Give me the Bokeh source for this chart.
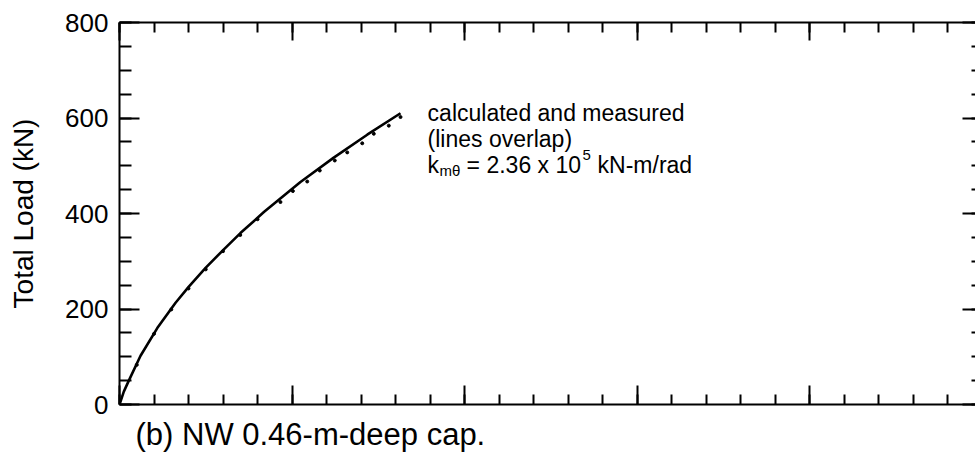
from bokeh.plotting import figure
from bokeh.models import Range1d, LinearAxis, FixedTicker, Label, Title, CustomJSTickFormatter
from bokeh.embed import file_html
from bokeh.resources import INLINE

# ---- data (x in axis units, no labels on the x axis in the original) ----
calc_x = [0.0, 0.025, 0.054, 0.122, 0.219, 0.325, 0.402, 0.499, 0.605, 0.701,
          0.837, 1.049, 1.242, 1.436, 1.629]
calc_load = [0, 27, 50, 102, 160, 213, 247, 286, 325, 359, 403, 466, 517, 565, 610]

meas_x = [0.10, 0.20, 0.30, 0.40, 0.50, 0.60, 0.70, 0.80, 0.933, 1.005, 1.088,
          1.161, 1.248, 1.320, 1.407, 1.474, 1.561, 1.629]
meas_load = [83, 148, 199, 243, 283, 321, 355, 388, 424, 447, 467, 490, 511, 528,
             547, 567, 584, 602]

x_major = [0, 1, 2, 3, 4]
x_minor = [round(i * 0.2, 2) for i in range(0, 25)]
y_major = [0, 200, 400, 600, 800]
y_minor = list(range(0, 801, 50))

FONT = "Liberation Sans"

p = figure(width=975, height=472, x_range=Range1d(0, 4.962), y_range=Range1d(0, 800),
           output_backend="svg", toolbar_location=None)
p.min_border_left = 119
p.min_border_right = 0
p.min_border_top = 22
p.min_border_bottom = 68
p.outline_line_color = None
p.grid.visible = False
p.background_fill_color = "white"
p.border_fill_color = "white"

xt = FixedTicker(ticks=x_major, minor_ticks=x_minor)
yt = FixedTicker(ticks=y_major, minor_ticks=y_minor)
blank = CustomJSTickFormatter(code="return ''")


def style_hidden(ax, major_in, minor_in, line=True):
    ax.formatter = blank
    ax.major_label_text_font_size = "0px"
    ax.major_label_standoff = 0
    ax.major_tick_in = major_in
    ax.major_tick_out = 0
    ax.minor_tick_in = minor_in
    ax.minor_tick_out = 0
    ax.major_tick_line_width = 2
    ax.minor_tick_line_width = 2
    ax.major_tick_line_color = "black"
    ax.minor_tick_line_color = "black"
    if line:
        ax.axis_line_width = 2
        ax.axis_line_color = "black"
    else:
        ax.axis_line_color = None


# bottom axis
bx = p.xaxis[0]
bx.ticker = xt
style_hidden(bx, 19, 10)

# left axis
ly = p.yaxis[0]
ly.ticker = yt
ly.major_tick_in = 20
ly.major_tick_out = 0
ly.minor_tick_in = 12
ly.minor_tick_out = 0
ly.major_tick_line_width = 2
ly.minor_tick_line_width = 2
ly.major_tick_line_color = "black"
ly.minor_tick_line_color = "black"
ly.axis_line_width = 2
ly.axis_line_color = "black"
ly.major_label_text_font = FONT
ly.major_label_text_font_size = "26px"
ly.major_label_text_color = "black"
ly.major_label_standoff = 11
ly.axis_label = "Total Load (kN)"
ly.axis_label_text_font = FONT
ly.axis_label_text_font_size = "28px"
ly.axis_label_text_font_style = "normal"
ly.axis_label_text_color = "black"
ly.axis_label_standoff = 23

# top axis
tx = LinearAxis(ticker=xt)
style_hidden(tx, 18, 10)
p.add_layout(tx, "above")

# right axis (frame edge lies beyond the picture, so only ticks show)
ry = LinearAxis(ticker=yt)
style_hidden(ry, 13, 4, line=False)
p.add_layout(ry, "right")

# curves
p.line(calc_x, calc_load, line_color="black", line_width=2.6)
p.scatter(meas_x, meas_load, size=3, color="black")

# annotation
ann_x = 1.786
ann_size = "23px"
sub_size = "15px"


def ann(text, y, dx=0, dy=0, size=ann_size):
    p.add_layout(Label(x=ann_x, y=y, x_offset=dx, y_offset=dy, text=text, text_font=FONT,
                       text_font_size=size, text_baseline="alphabetic", text_color="black"))


ann("calculated and measured", 611)
ann("(lines overlap)", 557)
ann("k", 502)
ann("mθ", 502, dx=12, dy=-6, size=sub_size)
ann("= 2.36 x 10", 502, dx=39)
ann("5", 502, dx=155, dy=10, size=sub_size)
ann("kN-m/rad", 502, dx=170)

# caption below the plot
cap = Title(text="(b) NW 0.46-m-deep cap.", align="left", offset=16, standoff=21,
            text_font=FONT, text_font_size="31px", text_font_style="normal",
            text_color="black")
p.add_layout(cap, "below")

open("out.html", "w").write(file_html(p, INLINE))
